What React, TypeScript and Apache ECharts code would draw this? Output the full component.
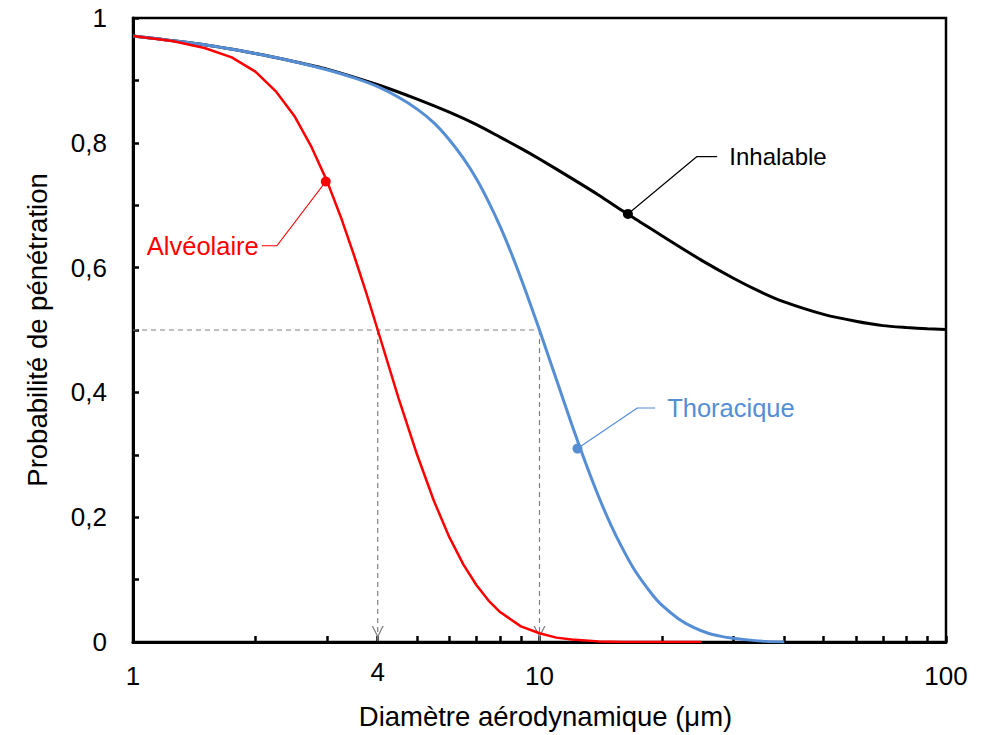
import React, { useEffect, useRef } from "react";
import * as echarts from "echarts";

// ---- Data ----
const inhalableD = [1, 1.5, 2, 2.5, 3, 4, 5, 6, 7, 8, 9, 10, 12, 14, 16, 18, 20, 25, 30, 35, 40, 50, 60, 70, 80, 90, 100];
const inhalableP = [0.971, 0.957, 0.943, 0.93, 0.918, 0.893, 0.87, 0.849, 0.829, 0.809, 0.791, 0.774, 0.743, 0.716, 0.691, 0.67, 0.651, 0.612, 0.583, 0.561, 0.545, 0.525, 0.514, 0.507, 0.504, 0.502, 0.501];

const thoracicD = [1, 1.5, 2, 2.5, 3, 3.5, 4, 4.5, 5, 5.5, 6, 6.5, 7, 7.5, 8, 8.5, 9, 9.5, 10, 11, 12, 13, 14, 15, 16, 17, 18, 19, 20, 22, 24, 26, 28, 30, 33, 36, 40];
const thoracicP = [0.971, 0.957, 0.943, 0.93, 0.917, 0.904, 0.89, 0.873, 0.854, 0.832, 0.805, 0.775, 0.742, 0.705, 0.666, 0.625, 0.583, 0.541, 0.5, 0.421, 0.349, 0.286, 0.232, 0.187, 0.15, 0.119, 0.095, 0.075, 0.059, 0.037, 0.023, 0.014, 0.009, 0.006, 0.003, 0.001, 0.0];

const alveolarD = [1, 1.25, 1.5, 1.75, 2, 2.25, 2.5, 2.75, 3, 3.25, 3.5, 3.75, 4, 4.5, 5, 5.5, 6, 6.5, 7, 7.5, 8, 9, 10, 11, 12, 14, 16, 18, 20, 22, 25];
const alveolarP = [0.971, 0.963, 0.952, 0.937, 0.914, 0.882, 0.842, 0.793, 0.739, 0.68, 0.619, 0.559, 0.5, 0.391, 0.3, 0.226, 0.168, 0.124, 0.091, 0.066, 0.048, 0.025, 0.014, 0.007, 0.004, 0.001, 0, 0, 0, 0, 0];

// Callouts: [marker on curve, elbow, end of leader] in data coordinates
const inhalableCallout = [[16.5, 0.686], [24.4, 0.778], [27.3, 0.778]];
const thoracicCallout = [[12.4, 0.31], [17.4, 0.375], [19.2, 0.375]];
const alveolarCallout = [[2.98, 0.738], [2.26, 0.635], [2.08, 0.635]];

// Reference (50 %) guide lines
const guideH = [[1, 0.5], [10, 0.5]];
const guideV4 = [[4, 0.5], [4, 0]];
const guideV10 = [[10, 0.5], [10, 0]];

const xLabelValues = [1, 4, 10, 100];
const xTickValues = [1, 2, 3, 4, 5, 6, 7, 8, 9, 10, 20, 30, 40, 50, 60, 70, 80, 90, 100];

const FONT = "Arial, 'Liberation Sans', sans-serif";
const BLACK = "#000000";
const BLUE = "#558ED5";
const RED = "#FF0000";
const GREY = "#808080";

const zip = (xs: number[], ys: number[]) => xs.map((x, i) => [x, ys[i]]);

const chevron = "path://M0,0 L6,12 L12,0 L10.6,0 L6,9.2 L1.4,0 Z";

function callout(points: number[][], color: string, text: string, pos: "left" | "right", size: number) {
  const last = points.length - 1;
  return {
    type: "line",
    data: points.map((p, i) => ({
      value: p,
      symbol: i === 0 || i === last ? "circle" : "none",
      symbolSize: i === 0 ? 10 : 1,
      label:
        i === last
          ? {
              show: true,
              position: pos,
              distance: pos === "right" ? 12 : 3,
              formatter: text,
              color,
              fontSize: size,
              fontFamily: FONT,
            }
          : { show: false },
    })),
    showAllSymbol: true,
    lineStyle: { color, width: 1.2 },
    itemStyle: { color },
    z: 5,
    silent: true,
  };
}

function guide(points: number[][], arrow: boolean) {
  return {
    type: "line",
    data: points.map((p, i) => ({
      value: p,
      symbol: arrow && i === 1 ? chevron : "none",
      symbolSize: [12, 12],
      symbolOffset: [0, -10],
    })),
    showAllSymbol: true,
    lineStyle: { color: GREY, width: 1.2, type: [5, 4] },
    itemStyle: { color: GREY, borderWidth: 0 },
    z: 1,
    silent: true,
  };
}

export default function App() {
  const ref = useRef<HTMLDivElement>(null);

  useEffect(() => {
    document.body.style.margin = "0";
    if (!ref.current) return;
    const chart = echarts.init(ref.current, undefined, { renderer: "svg" });
    chart.setOption({
      animation: false,
      backgroundColor: "#ffffff",
      textStyle: { fontFamily: FONT },
      grid: {
        left: 133,
        right: 49,
        top: 18,
        bottom: 93,
        show: true,
        borderColor: BLACK,
        borderWidth: 2.5,
        backgroundColor: "transparent",
      },
      xAxis: {
        type: "log",
        logBase: 10,
        min: 1,
        max: 100,
        name: "Diamètre aérodynamique (μm)",
        nameLocation: "middle",
        nameGap: 60,
        nameTextStyle: { fontSize: 27.5, color: BLACK, fontFamily: FONT, padding: [0, 0, 0, 12] },
        axisLine: { show: true, lineStyle: { color: BLACK, width: 3 } },
        axisTick: {
          show: true,
          inside: true,
          length: 6,
          customValues: xTickValues,
          lineStyle: { color: BLACK, width: 2.5 },
        },
        axisLabel: {
          customValues: xLabelValues,
          fontSize: 26,
          color: BLACK,
          fontFamily: FONT,
          margin: 20,
          formatter: (v: number) => (v === 4 ? "{up|4}" : "{n|" + v + "}"),
          rich: {
            up: { fontSize: 26, fontFamily: FONT, color: BLACK, lineHeight: 20 },
            n: { fontSize: 26, fontFamily: FONT, color: BLACK, lineHeight: 28 },
          },
        },
        splitLine: { show: false },
        minorTick: { show: false },
      },
      yAxis: {
        type: "value",
        min: 0,
        max: 1,
        interval: 0.2,
        name: "Probabilité de pénétration",
        nameLocation: "middle",
        nameGap: 82,
        nameTextStyle: { fontSize: 27.5, color: BLACK, fontFamily: FONT },
        axisLine: { show: true, lineStyle: { color: BLACK, width: 3 } },
        axisTick: { show: true, inside: true, length: 6, lineStyle: { color: BLACK, width: 2.5 } },
        minorTick: { show: true, splitNumber: 2, length: 6, lineStyle: { color: BLACK, width: 2.5 } },
        axisLabel: {
          fontSize: 26,
          color: BLACK,
          fontFamily: FONT,
          margin: 26,
          formatter: (v: number) => (v === 0 ? "0" : v === 1 ? "1" : v.toFixed(1).replace(".", ",")),
        },
        splitLine: { show: false },
      },
      series: [
        guide(guideH, false),
        guide(guideV4, true),
        guide(guideV10, true),
        {
          name: "Inhalable",
          type: "line",
          data: zip(inhalableD, inhalableP),
          showSymbol: false,
          smooth: 0.25,
          lineStyle: { color: BLACK, width: 3 },
          z: 2,
        },
        {
          name: "Thoracique",
          type: "line",
          data: zip(thoracicD, thoracicP),
          showSymbol: false,
          smooth: 0.25,
          lineStyle: { color: BLUE, width: 3 },
          z: 3,
        },
        {
          name: "Alvéolaire",
          type: "line",
          data: zip(alveolarD, alveolarP),
          showSymbol: false,
          lineStyle: { color: RED, width: 2.5 },
          z: 4,
        },
        callout(inhalableCallout, BLACK, "Inhalable", "right", 24),
        callout(thoracicCallout, BLUE, "Thoracique", "right", 25.5),
        callout(alveolarCallout, RED, "Alvéolaire", "left", 25.5),
      ],
    });
    return () => chart.dispose();
  }, []);

  return <div ref={ref} style={{ width: 995, height: 735 }} />;
}
